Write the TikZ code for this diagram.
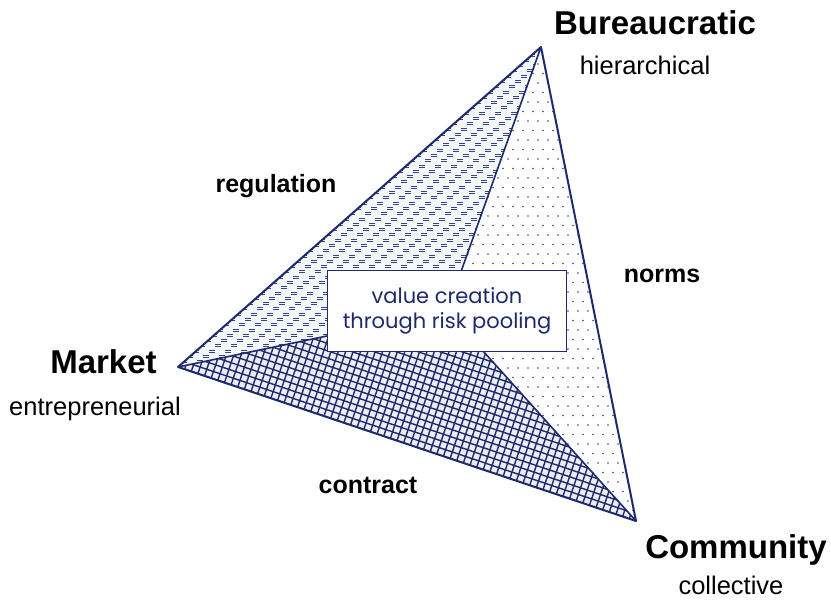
\documentclass[tikz,border=0pt]{standalone}
\usepackage{fontspec}
\setmainfont{Liberation Sans}
\newfontfamily\boxfont{Poppins}
\definecolor{navy}{HTML}{1F2A6E}
\definecolor{patnavy}{HTML}{34448A}
\begin{document}
\begin{tikzpicture}[x=1pt,y=-1pt,
  bigl/.style={anchor=base, inner sep=0pt, font=\fontsize{33}{38}\selectfont\bfseries},
  subl/.style={anchor=base, inner sep=0pt, font=\fontsize{25.5}{30}\selectfont},
  edgel/.style={anchor=base, inner sep=0pt, font=\fontsize{25}{30}\selectfont\bfseries},
  outer/.style={draw=navy, line width=2pt, line join=round},
  inner/.style={draw=navy, line width=1.6pt},
  hatch/.style={draw=navy, line width=1.4pt},
  dashmark/.style={draw=patnavy, line width=0.75pt},
  valuebox/.style={draw=navy, fill=white, line width=1.3pt, minimum width=239pt, minimum height=81pt, align=center, text=navy, font=\boxfont\fontsize{21}{25}\selectfont}]
\useasboundingbox (0,0) rectangle (831,602);
\fill[white] (0,0) rectangle (831,602);
\coordinate (M) at (178,367);
\coordinate (B) at (541,47);
\coordinate (C) at (636,521);
\coordinate (P) at (447,311);

% crosshatch region
\begin{scope}
  \clip (M) -- (P) -- (C) -- cycle;
  \fill[navy!8] (M) -- (P) -- (C) -- cycle;
  \foreach \k in {0,...,22} {
    \draw[hatch] ({178+2.23*\k-47.4},{367-6.64*\k-16}) -- ({178+2.23*\k+521},{367-6.64*\k+175.5});
  }
  \foreach \m in {-6,...,72} {
    \draw[hatch] ({178+0.948*7*\m+63.8},{367+0.319*7*\m-189.6}) -- ({178+0.948*7*\m-6.4},{367+0.319*7*\m+19});
  }
\end{scope}

% dash region
\begin{scope}
  \clip (M) -- (B) -- (P) -- cycle;
  \fill[navy!4] (M) -- (B) -- (P) -- cycle;
  \foreach \i in {0,...,62} {
    \foreach \j in {-1,...,14} {
      \draw[dashmark] ({178+6.0*\i+16*\j-3.2},{367-5.29*\i-1}) -- ++(6.4,0)
                      ({178+6.0*\i+16*\j-3.2},{367-5.29*\i+1}) -- ++(6.4,0);
    }
  }
\end{scope}

% dot region
\begin{scope}
  \clip (B) -- (C) -- (P) -- cycle;
  \foreach \j in {0,...,50} {
    \foreach \i in {0,...,21} {
      \fill[patnavy] ({438+10*\i+5*mod(\j,2)},{45+9.5*\j}) circle[radius=0.9];
    }
  }
\end{scope}

% edges
\draw[inner] (B) -- (P);
\draw[inner] (M) -- (P);
\draw[inner] (P) -- (C);
\draw[outer] (M) -- (B) -- (C) -- cycle;

% central box
\node[valuebox] (vc) at (P) {value creation\\through risk pooling};

% labels
\node[bigl] (bur) at (655,35) {Bureaucratic};
\node[subl] (hie) at (645,75) {hierarchical};
\node[bigl] (mar) at (103.5,373) {Market};
\node[subl] (ent) at (95,415) {entrepreneurial};
\node[bigl] (com) at (736,558) {Community};
\node[subl] (col) at (731,594) {collective};
\node[edgel] (reg) at (276,192) {regulation};
\node[edgel] (nor) at (662,282) {norms};
\node[edgel] (con) at (368,493) {contract};
\end{tikzpicture}
\end{document}
